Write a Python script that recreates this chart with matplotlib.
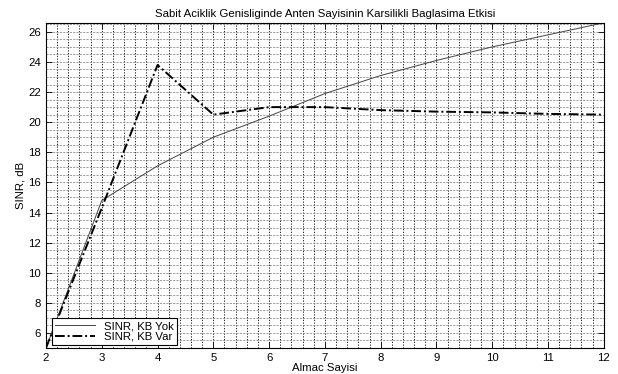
import numpy as np
import matplotlib

matplotlib.use("Agg")
import matplotlib.pyplot as plt
from matplotlib.ticker import MultipleLocator

plt.rcParams.update(
    {
        "font.family": ["Liberation Sans", "DejaVu Sans"],
        "font.size": 8.2,
        "xtick.direction": "in",
        "ytick.direction": "in",
    }
)

# ---------------------------------------------------------------------------
# Data
# ---------------------------------------------------------------------------
almac = [2, 3, 4, 5, 6, 7, 8, 9, 10, 11, 12]
sinr_kb_yok = [5.0, 14.8, 17.1, 19.0, 20.4, 21.9, 23.1, 24.1, 25.0, 25.8, 26.6]
sinr_kb_var = [5.0, 14.3, 23.8, 20.5, 21.0, 21.0, 20.8, 20.7, 20.65, 20.55, 20.5]

title = "Sabit Aciklik Genisliginde Anten Sayisinin Karsilikli Baglasima Etkisi"
labels = ["SINR, KB Yok", "SINR, KB Var"]

# ---------------------------------------------------------------------------
# Figure
# ---------------------------------------------------------------------------
fig = plt.figure(figsize=(6.18, 3.74), dpi=100)
ax = fig.add_axes([0.0744, 0.0695, 0.9026, 0.8695])

ax.plot(almac, sinr_kb_yok, color="#444444", lw=0.7, ls="-", label=labels[0])
ax.plot(almac, sinr_kb_var, color="black", lw=1.4, ls=(0, (5, 1.5, 1, 1.5)),
        label=labels[1])

ax.set_xlim(2, 12)
ax.set_ylim(min(sinr_kb_yok), max(sinr_kb_yok))
ax.xaxis.set_major_locator(MultipleLocator(1))
ax.xaxis.set_minor_locator(MultipleLocator(0.2))
ax.yaxis.set_major_locator(MultipleLocator(2))
ax.yaxis.set_minor_locator(MultipleLocator(0.5))
ax.tick_params(which="both", top=True, right=True)
ax.tick_params(which="major", length=4, width=0.6)
ax.tick_params(which="minor", length=0)

# matlab-like grid: black dotted verticals, grey dashed horizontals
ax.xaxis.grid(True, which="both", color="black", ls=(0, (1.5, 1.8)), lw=0.6)
ax.yaxis.grid(True, which="both", color="#8a8a8a", ls=(0, (2.5, 1.5)), lw=0.6)
ax.set_axisbelow(True)
for sp in ax.spines.values():
    sp.set_linewidth(0.8)

ax.set_title(title, fontsize=8.2, pad=4)
ax.set_xlabel("Almac Sayisi", labelpad=0)
ax.set_ylabel("SINR, dB", labelpad=2)

leg = ax.legend(loc="lower left", fontsize=8.2, frameon=True, fancybox=False,
                framealpha=1, edgecolor="black", handlelength=3.5,
                borderpad=0.25, labelspacing=0.05, borderaxespad=0.3,
                bbox_to_anchor=(0.005, 0.0))
leg.get_frame().set_linewidth(0.8)

fig.savefig("out.png", dpi=100)
